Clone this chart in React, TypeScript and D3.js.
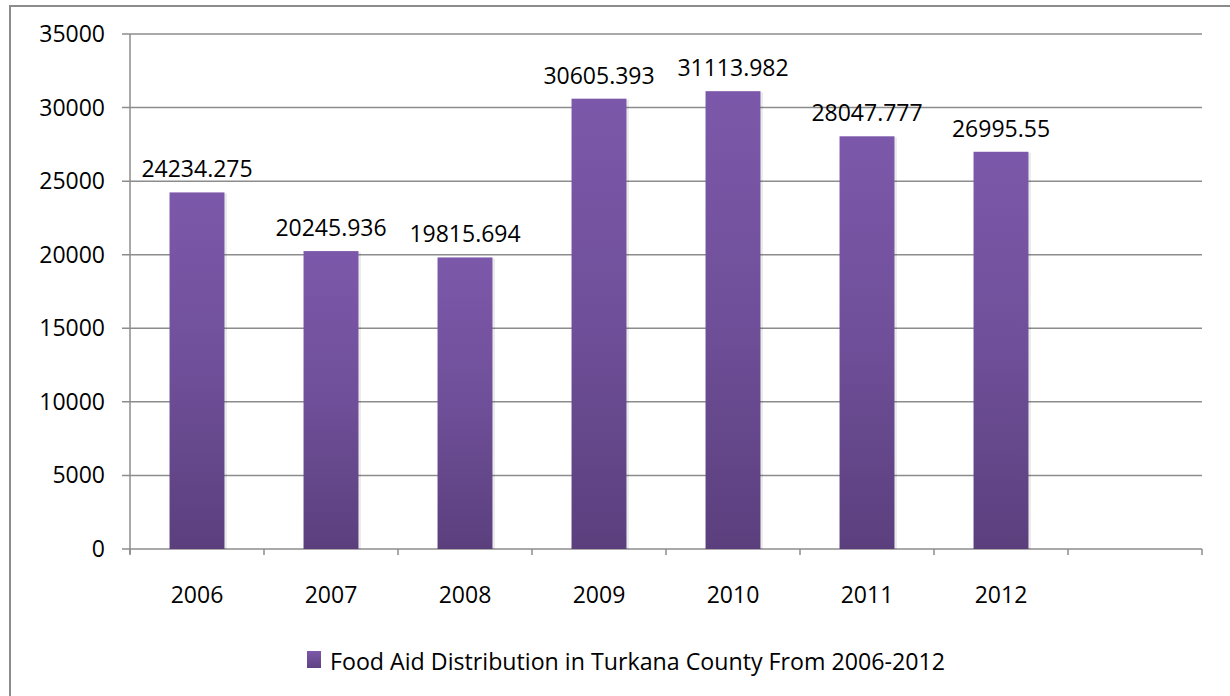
import React, { useEffect, useRef } from "react";
import * as d3 from "d3";

const categories = ["2006", "2007", "2008", "2009", "2010", "2011", "2012", ""];
const values = [24234.275, 20245.936, 19815.694, 30605.393, 31113.982, 28047.777, 26995.55];
const valueLabels = ["24234.275", "20245.936", "19815.694", "30605.393", "31113.982", "28047.777", "26995.55"];
const yTicks = [0, 5000, 10000, 15000, 20000, 25000, 30000, 35000];
const seriesName = "Food Aid Distribution in Turkana County From 2006-2012";

const W = 1230;
const H = 696;

export default function App() {
  const ref = useRef<SVGSVGElement | null>(null);

  useEffect(() => {
    const svg = d3.select(ref.current);
    svg.selectAll("*").remove();

    const left = 130, right = 1202, top = 34, bottom = 549;
    const x = d3.scaleBand<string>().domain(categories).range([left, right]).paddingInner(0).paddingOuter(0);
    const y = d3.scaleLinear().domain([0, 35000]).range([bottom, top]);
    const font = "'Open Sans', sans-serif";
    const fs = 23;

    const defs = svg.append("defs");
    const grad = defs.append("linearGradient").attr("id", "barGrad").attr("x1", 0).attr("y1", 0).attr("x2", 0).attr("y2", 1);
    grad.append("stop").attr("offset", "0%").attr("stop-color", "#7c58aa");
    grad.append("stop").attr("offset", "50%").attr("stop-color", "#6f4f99");
    grad.append("stop").attr("offset", "100%").attr("stop-color", "#5b3f7d");
    const lgrad = defs.append("linearGradient").attr("id", "legGrad").attr("x1", 0).attr("y1", 0).attr("x2", 0).attr("y2", 1);
    lgrad.append("stop").attr("offset", "0%").attr("stop-color", "#7c58aa");
    lgrad.append("stop").attr("offset", "100%").attr("stop-color", "#5f4382");

    svg.append("rect").attr("x", 0).attr("y", 0).attr("width", W).attr("height", H).attr("fill", "#fff");
    // outer border
    svg.append("rect").attr("x", 10).attr("y", 6).attr("width", W + 10).attr("height", H + 10)
      .attr("fill", "none").attr("stroke", "#8c8c8c").attr("stroke-width", 2);

    // gridlines
    svg.append("g").selectAll("line").data(yTicks).join("line")
      .attr("x1", left - 8).attr("x2", right)
      .attr("y1", (d) => y(d)).attr("y2", (d) => y(d))
      .attr("stroke", "#8c8c8c").attr("stroke-width", 1.5);

    // y axis
    svg.append("line").attr("x1", left).attr("x2", left).attr("y1", top).attr("y2", bottom + 5)
      .attr("stroke", "#8c8c8c").attr("stroke-width", 1.5);

    // x ticks
    const tickXs = categories.map((c) => x(c) as number).concat([right]);
    svg.append("g").selectAll("line").data(tickXs).join("line")
      .attr("x1", (d) => d).attr("x2", (d) => d)
      .attr("y1", bottom).attr("y2", bottom + 6)
      .attr("stroke", "#8c8c8c").attr("stroke-width", 1.5);

    // y labels
    svg.append("g").selectAll("text").data(yTicks).join("text")
      .attr("x", 105).attr("y", (d) => y(d))
      .attr("dy", "0.35em")
      .attr("text-anchor", "end")
      .attr("font-family", font).attr("font-size", fs).attr("fill", "#000")
      .text((d) => String(d));

    // x labels
    svg.append("g").selectAll("text").data(categories.filter((c) => c !== "")).join("text")
      .attr("x", (d) => (x(d) as number) + x.bandwidth() / 2).attr("y", 603)
      .attr("text-anchor", "middle")
      .attr("font-family", font).attr("font-size", fs).attr("fill", "#000")
      .text((d) => d);

    const bw = x.bandwidth() * 0.41;
    const barData = values.map((v, i) => ({ c: categories[i], v, label: valueLabels[i] }));

    // bar shadow
    svg.append("g").selectAll("rect").data(barData).join("rect")
      .attr("x", (d) => (x(d.c) as number) + x.bandwidth() / 2 - bw / 2 + 1)
      .attr("y", (d) => y(d.v) + 1)
      .attr("width", bw + 1.5)
      .attr("height", (d) => bottom - y(d.v) - 1)
      .attr("fill", "#000").attr("opacity", 0.08);

    svg.append("g").selectAll("rect").data(barData).join("rect")
      .attr("x", (d) => (x(d.c) as number) + x.bandwidth() / 2 - bw / 2)
      .attr("y", (d) => y(d.v))
      .attr("width", bw)
      .attr("height", (d) => bottom - y(d.v))
      .attr("fill", "url(#barGrad)");

    svg.append("g").selectAll("text").data(barData).join("text")
      .attr("x", (d) => (x(d.c) as number) + x.bandwidth() / 2)
      .attr("y", (d) => y(d.v) - 15)
      .attr("text-anchor", "middle")
      .attr("font-family", font).attr("font-size", fs).attr("fill", "#000")
      .text((d) => d.label);

    // legend
    svg.append("rect").attr("x", 307).attr("y", 651).attr("width", 14).attr("height", 17).attr("fill", "url(#legGrad)");
    svg.append("text").attr("x", 330).attr("y", 670)
      .attr("font-family", font).attr("font-size", 23).attr("fill", "#000")
      .attr("textLength", 615).attr("lengthAdjust", "spacingAndGlyphs")
      .text(seriesName);
  }, []);

  return (
    <svg ref={ref} width={W} height={H} style={{ position: "absolute", left: 0, top: 0, display: "block" }} />
  );
}
